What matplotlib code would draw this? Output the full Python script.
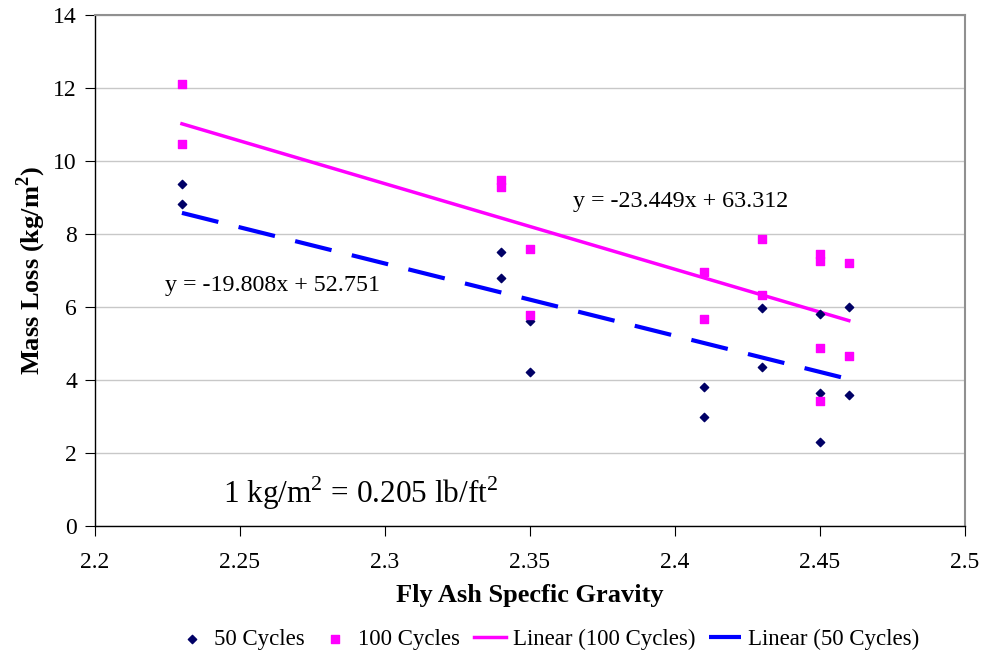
import numpy as np
import matplotlib.pyplot as plt

plt.rcParams['font.family'] = ['Liberation Serif', 'DejaVu Serif']
plt.rcParams['mathtext.fontset'] = 'custom'
plt.rcParams['mathtext.rm'] = 'Liberation Serif'
plt.rcParams['mathtext.bf'] = 'Liberation Serif:bold'

# 50 cycles
x50 = [2.23, 2.23, 2.34, 2.34, 2.35, 2.35, 2.41, 2.41, 2.43, 2.43, 2.45, 2.45, 2.45, 2.46, 2.46]
y50 = [9.37, 8.82, 7.51, 6.79, 5.62, 4.22, 3.81, 2.99, 5.97, 4.36, 5.81, 3.64, 2.30, 6.00, 3.59]
# 100 cycles
x100 = [2.23, 2.23, 2.34, 2.34, 2.35, 2.35, 2.41, 2.41, 2.43, 2.43, 2.45, 2.45, 2.45, 2.45, 2.46, 2.46]
y100 = [12.11, 10.47, 9.48, 9.29, 7.59, 5.78, 6.96, 5.67, 7.86, 6.33, 7.45, 7.26, 4.88, 3.42, 7.20, 4.66]

# trendline coefficients (slope, intercept) as shown on chart
fit100 = [-23.449, 63.312]
fit50 = [-19.808, 52.751]
xfit = [2.23, 2.46]

fig = plt.figure(figsize=(9.84, 6.55), dpi=100)
ax = fig.add_axes([0.0965, 0.197, 0.884, 0.780])

ax.scatter(x50, y50, marker='D', s=18, color='#000066', zorder=3, label='50 Cycles')
ax.scatter(x100, y100, marker='s', s=40, color='#FF00FF', zorder=3, label='100 Cycles')
xf = np.array(xfit)
ax.plot(xf, fit100[0]*xf + fit100[1], color='#FF00FF', lw=2.5, label='Linear (100 Cycles)', zorder=2)
ax.plot(xf, fit50[0]*xf + fit50[1], color='#0000FF', lw=3, dashes=(9, 5), label='Linear (50 Cycles)', zorder=2)

ax.set_xlim(2.2, 2.5)
ax.set_ylim(0, 14)
ax.set_xticks([2.2, 2.25, 2.3, 2.35, 2.4, 2.45, 2.5])
ax.set_xticklabels(['2.2', '2.25', '2.3', '2.35', '2.4', '2.45', '2.5'])
ax.set_yticks(range(0, 15, 2))
ax.yaxis.grid(True, color='#c8c8c8', lw=1)
ax.set_axisbelow(True)
for s in ['top', 'right']:
    ax.spines[s].set_color('#909090')
    ax.spines[s].set_linewidth(1.5)
for s in ['left', 'bottom']:
    ax.spines[s].set_color('black')
    ax.spines[s].set_linewidth(1)
ax.tick_params(axis='both', labelsize=17, length=7, direction='out')
ax.tick_params(axis='x', pad=12)
ax.tick_params(axis='y', pad=6)

ax.set_xlabel('Fly Ash Specfic Gravity', fontsize=19, fontweight='bold', labelpad=8)
ax.set_ylabel('Mass Loss (kg/m$^\\mathbf{2}$)', fontsize=19, fontweight='bold', labelpad=4)

ax.text(2.365, 8.9, 'y = -23.449x + 63.312', fontsize=17.3, va='center')
ax.text(2.224, 6.6, 'y = -19.808x + 52.751', fontsize=17.3, va='center')
ax.text(2.244, 0.9, '1 kg/m$^2$ = 0.205 lb/ft$^2$', fontsize=22.5, va='center')

leg = ax.legend(loc='center', bbox_to_anchor=(0.52, -0.223), ncol=4, frameon=False,
                fontsize=16.5, handlelength=1.4, columnspacing=0.6, handletextpad=0.3)

fig.savefig('out.png', dpi=100)
